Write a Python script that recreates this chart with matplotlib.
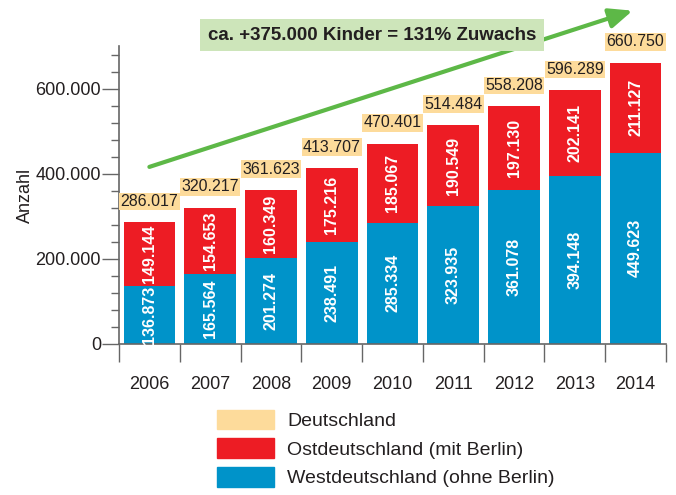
import matplotlib.pyplot as plt
from matplotlib.patches import Patch
from matplotlib.ticker import MultipleLocator, FixedLocator

plt.rcParams['font.family'] = ['Liberation Sans', 'DejaVu Sans']

years = ["2006", "2007", "2008", "2009", "2010", "2011", "2012", "2013", "2014"]
west = [136873, 165564, 201274, 238491, 285334, 323935, 361078, 394148, 449623]
east = [149144, 154653, 160349, 175216, 185067, 190549, 197130, 202141, 211127]
total = [286017, 320217, 361623, 413707, 470401, 514484, 558208, 596289, 660750]
yticks = [0, 200000, 400000, 600000]
ytick_labels = ["0", "200.000", "400.000", "600.000"]
legend_labels = ["Deutschland", "Ostdeutschland (mit Berlin)", "Westdeutschland (ohne Berlin)"]
headline = "ca. +375.000 Kinder = 131% Zuwachs"

c_west = "#0093c9"
c_east = "#ed1c24"
c_total = "#fddb9b"
c_green = "#5db847"
c_box = "#cde5ba"
c_text = "#231f20"
c_axis = "#666666"


def fmt(v):
    return f"{v:,}".replace(",", ".")


fig = plt.figure(figsize=(6.76, 4.95), dpi=100)
ax = fig.add_axes([119 / 676, 1 - 344 / 495, (666 - 119) / 676, (344 - 46) / 495])

x = list(range(len(years)))
ax.bar(x, west, width=0.85, color=c_west, zorder=2)
ax.bar(x, east, width=0.85, bottom=west, color=c_east, zorder=2)

for i in x:
    ax.text(i, west[i] / 2, fmt(west[i]), rotation=90, ha="center", va="center",
            color="white", fontsize=11.5, fontweight="bold", zorder=3)
    ax.text(i, west[i] + east[i] / 2, fmt(east[i]), rotation=90, ha="center", va="center",
            color="white", fontsize=11.5, fontweight="bold", zorder=3)
    ax.annotate(fmt(total[i]), (i, total[i]), xytext=(0, 15), textcoords="offset points",
                ha="center", va="center", fontsize=11.5, color=c_text, zorder=3,
                bbox=dict(boxstyle="square,pad=0.08", fc=c_total, ec="none"))

ax.set_xlim(-0.5, len(years) - 0.5)
ax.set_ylim(0, 700000)

ax.set_yticks(yticks)
ax.set_yticklabels(ytick_labels)
ax.yaxis.set_minor_locator(MultipleLocator(40000))
ax.tick_params(axis="y", which="major", length=12, width=1, color=c_axis,
               labelsize=13, labelcolor=c_text, pad=1)
ax.tick_params(axis="y", which="minor", length=6, width=1, color=c_axis)

ax.set_xticks(x)
ax.set_xticklabels(years)
ax.xaxis.set_minor_locator(FixedLocator([i - 0.5 for i in range(len(years) + 1)]))
ax.tick_params(axis="x", which="major", length=0, labelsize=13, labelcolor=c_text, pad=23)
ax.tick_params(axis="x", which="minor", length=13, width=1, color=c_axis)

for s in ["top", "right"]:
    ax.spines[s].set_visible(False)
for s in ["left", "bottom"]:
    ax.spines[s].set_color(c_axis)
    ax.spines[s].set_linewidth(1.2)

ax.set_ylabel("Anzahl", fontsize=13, color=c_text, labelpad=1)

# trend arrow
ax.annotate("", xy=(7.95, 783000), xytext=(0.0, 416000), annotation_clip=False,
            arrowprops=dict(arrowstyle="-|>,head_length=1.4,head_width=0.6",
                            color=c_green, lw=3, shrinkA=0, shrinkB=0), zorder=4)
ax.text(3.66, 725000, headline, ha="center", va="center", fontsize=13.5,
        fontweight="bold", color=c_text, zorder=5, clip_on=False,
        bbox=dict(boxstyle="square,pad=0.4", fc=c_box, ec="none"))

handles = [Patch(color=c_total), Patch(color=c_east), Patch(color=c_west)]
fig.legend(handles, legend_labels, loc="upper left", bbox_to_anchor=(199 / 676, 1 - 392 / 495),
           frameon=False, fontsize=14, handlelength=2.95, handleheight=1.2,
           labelspacing=0.42, handletextpad=0.7, labelcolor=c_text)

fig.savefig("out.png", dpi=100)
